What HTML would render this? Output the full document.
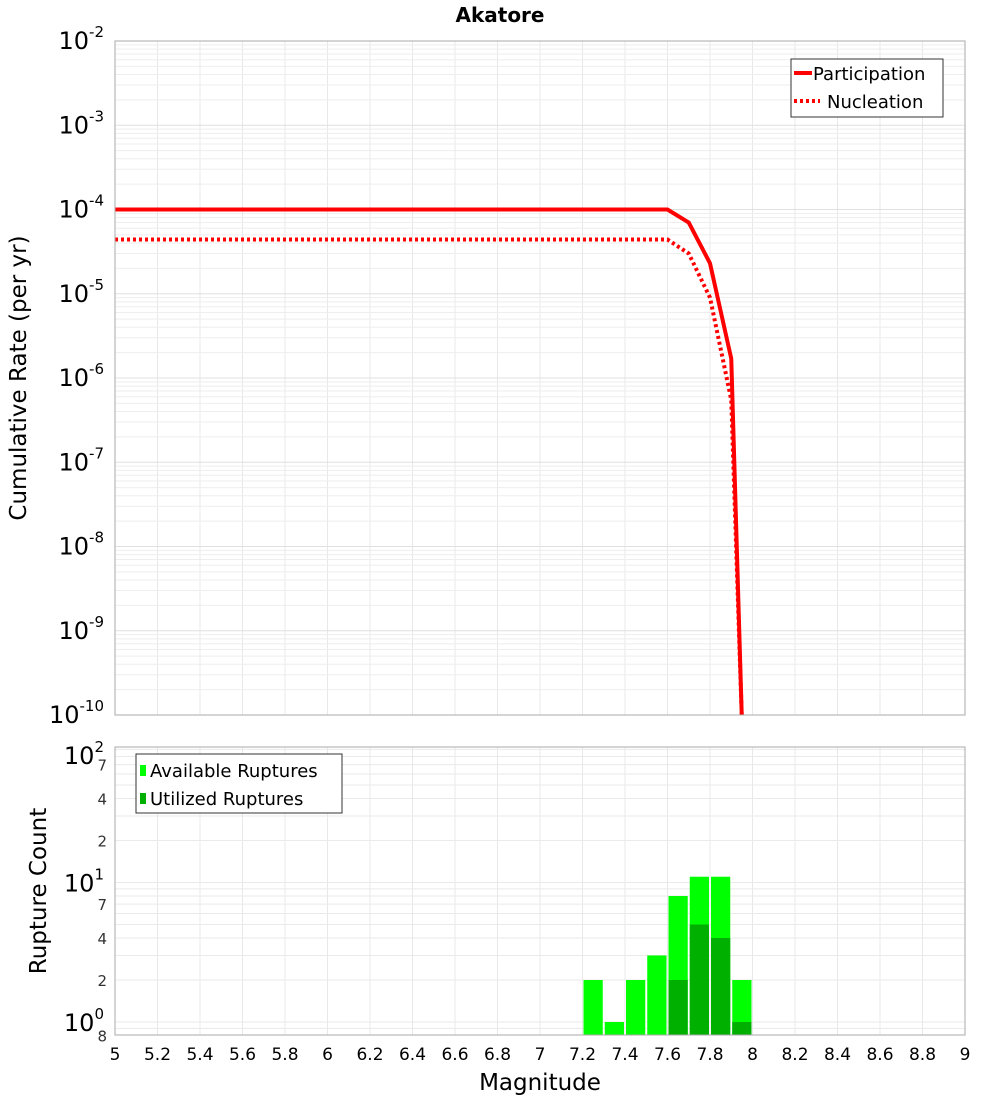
<!DOCTYPE html>
<html><head><meta charset="utf-8"><style>
body{margin:0;background:#fff;font-family:"Liberation Sans","DejaVu Sans",sans-serif}
svg text{font-family:"DejaVu Sans","Liberation Sans",sans-serif}
</style></head><body>
<svg id="chart" width="1000" height="1100" xmlns="http://www.w3.org/2000/svg">
<text x="500" y="22" text-anchor="middle" font-size="20" font-weight="bold">Akatore</text>
<g id="top-plot"></g>
<g id="bottom-plot"></g>
<text transform="translate(26,378) rotate(-90)" text-anchor="middle" font-size="23">Cumulative Rate (per yr)</text>
<text transform="translate(46,891) rotate(-90)" text-anchor="middle" font-size="23">Rupture Count</text>
<text x="540" y="1090" text-anchor="middle" font-size="23">Magnitude</text>
</svg>
<script>
const mags=[5,7.6,7.7,7.8,7.9,7.95];
const participation=[1e-4,1e-4,7e-5,2.3e-5,1.7e-6,1e-11];
const nucleation=[4.4e-5,4.4e-5,3e-5,9e-6,5.5e-7,1e-11];
const binCenters=[7.25,7.35,7.45,7.55,7.65,7.75,7.85,7.95];
const available=[2,1,2,3,8,11,11,2];
const utilized=[0,0,0,0,2,5,4,1];
const xTicks=[5,5.2,5.4,5.6,5.8,6,6.2,6.4,6.6,6.8,7,7.2,7.4,7.6,7.8,8,8.2,8.4,8.6,8.8,9];
const topDecades=[-10,-9,-8,-7,-6,-5,-4,-3,-2];
const botMinor=[2,4,7,20,40,70];

const NS='http://www.w3.org/2000/svg';
const L=115,R=965;
const X=m=>L+(m-5)/4*(R-L);
const T0=41,T1=715;
const YT=v=>T0+(-2-Math.log10(v))*(T1-T0)/8;
const B0=747,B1=1035,D=139.5;
const YB=v=>1022-Math.log10(v)*D;
function el(p,t,a){const e=document.createElementNS(NS,t);for(const k in a)e.setAttribute(k,a[k]);p.appendChild(e);return e;}
const topG=document.getElementById('top-plot'),botG=document.getElementById('bottom-plot');
el(topG,'rect',{x:L,y:T0,width:R-L,height:T1-T0,fill:'#fff'});
el(botG,'rect',{x:L,y:B0,width:R-L,height:B1-B0,fill:'#fff'});
xTicks.forEach(m=>{
 let g=el(topG,'line',{x1:X(m),x2:X(m),y1:T0,y2:T1,stroke:'#e8e8e8'});
 
 
 let h=el(botG,'line',{x1:X(m),x2:X(m),y1:B0,y2:B1,stroke:'#e8e8e8'});
 
 
 let t=el(botG,'text',{x:X(m),y:1060,'text-anchor':'middle','font-size':17});
 t.textContent=String(m);
 
 
});
topDecades.forEach(d=>{
 for(let k=1;k<10;k++){const v=k*Math.pow(10,d);const y=YT(v);if(y<T0-0.5||y>T1+0.5)continue;
  let g=el(topG,'line',{x1:L,x2:R,y1:y,y2:y,stroke:k==1?'#e0e0e0':'#eeeeee'});
  
  }
 let t=el(topG,'text',{x:104,y:YT(Math.pow(10,d))+8,'text-anchor':'end','font-size':24});
 t.innerHTML='10<tspan dy="-12" font-size="15">'+d+'</tspan>';
 
 
});
[0.8,0.9,1,2,3,4,5,6,7,8,9,10,20,30,40,50,60,70,80,90].forEach(v=>{const y=YB(v);if(y<B0||y>B1)return;
 let g=el(botG,'line',{x1:L,x2:R,y1:y,y2:y,stroke:'#eaeaea'});
 
 });
[[1,0],[10,1],[100,2]].forEach(([v,e])=>{
 let t=el(botG,'text',{x:104,y:Math.max(YB(v),755)+9,'text-anchor':'end','font-size':24});
 t.innerHTML='10<tspan dy="-12" font-size="15">'+e+'</tspan>';
 
 });
botMinor.concat([0.8]).forEach(v=>{
 let t=el(botG,'text',{x:107,y:YB(v)+6,'text-anchor':'end','font-size':15,fill:'#333'});
 t.textContent=v<1?'8':String(v)[0];
 
 });
function path(xs,ys){return xs.map((m,i)=>(i?'L':'M')+X(m)+','+Math.min(YT(ys[i]),T1+5)).join(' ');}
let cp=document.createElementNS(NS,'clipPath');cp.id='cl';el(cp,'rect',{x:L,y:T0,width:R-L,height:T1-T0});topG.appendChild(cp);
let p1=el(topG,'path',{d:path(mags,participation),fill:'none',stroke:'#ff0000','stroke-width':4,'clip-path':'url(#cl)'});


let p2=el(topG,'path',{d:path(mags,nucleation),fill:'none',stroke:'#ff0000','stroke-width':4,'stroke-dasharray':'3,3','clip-path':'url(#cl)'});


binCenters.forEach((m,i)=>{
 const x0=X(m-0.05),w=X(m+0.05)-x0;
 let a=el(botG,'rect',{x:x0+1,y:YB(available[i]),width:w-2,height:B1-YB(available[i]),fill:'#00ff00'});
 
 
 if(utilized[i]>0){let u=el(botG,'rect',{x:x0+1,y:YB(utilized[i]),width:w-2,height:B1-YB(utilized[i]),fill:'#00b000'});
 
 }
});
el(topG,'rect',{x:L,y:T0,width:R-L,height:T1-T0,fill:'none',stroke:'#aaa'});
el(botG,'rect',{x:L,y:B0,width:R-L,height:B1-B0,fill:'none',stroke:'#aaa'});
let lg=el(topG,'g',{});


el(lg,'rect',{x:791,y:59,width:152,height:58,fill:'#fff',stroke:'#333'});
el(lg,'line',{x1:794,x2:812,y1:73,y2:73,stroke:'#f00','stroke-width':4});
el(lg,'line',{x1:794,x2:820,y1:101,y2:101,stroke:'#f00','stroke-width':4,'stroke-dasharray':'3,3'});
let t1=el(lg,'text',{x:813,y:80,'font-size':18});t1.textContent='Participation';
let t2=el(lg,'text',{x:827,y:108,'font-size':18});t2.textContent='Nucleation';
let lb=el(botG,'g',{});


el(lb,'rect',{x:136,y:754,width:206,height:59,fill:'#fff',stroke:'#333'});
el(lb,'rect',{x:140,y:765,width:6,height:11,fill:'#00ff00'});
el(lb,'rect',{x:140,y:793,width:6,height:11,fill:'#00b000'});
let t3=el(lb,'text',{x:150,y:777,'font-size':18});t3.textContent='Available Ruptures';
let t4=el(lb,'text',{x:150,y:805,'font-size':18});t4.textContent='Utilized Ruptures';
</script>
</body></html>
